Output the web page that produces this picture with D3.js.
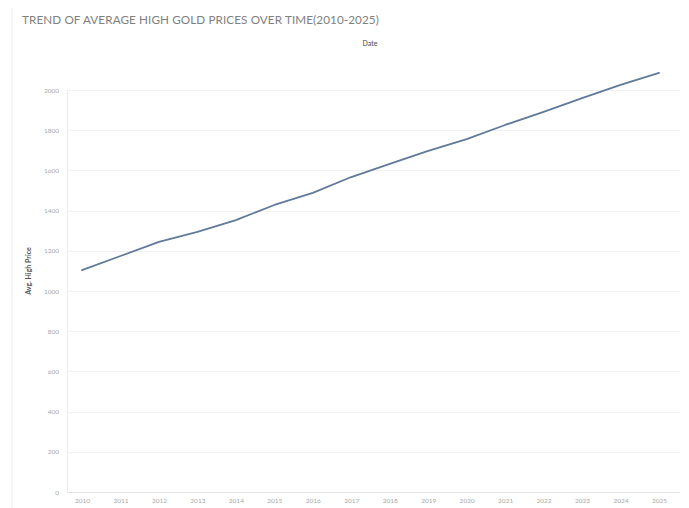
<!DOCTYPE html>
<html>
<head>
<meta charset="utf-8">
<script src="https://cdn.jsdelivr.net/npm/d3@7"></script>
<style>
  html, body { margin: 0; padding: 0; background: #fff; }
  svg { display: block; font-family: Lato, "Open Sans", sans-serif; }
</style>
</head>
<body>
<svg id="chart" width="689" height="508"></svg>
<script>
// Yearly average high gold price (USD)
const years = [2010, 2011, 2012, 2013, 2014, 2015, 2016, 2017, 2018, 2019, 2020, 2021, 2022, 2023, 2024, 2025];
const avgHigh = [1104, 1174, 1244, 1294, 1353, 1428, 1488, 1567, 1632, 1697, 1756, 1826, 1891, 1960, 2025, 2085];
const yTicks = [0, 200, 400, 600, 800, 1000, 1200, 1400, 1600, 1800, 2000];

const svg = d3.select("#chart");
const W = 689, H = 508;
const plot = { left: 67, right: 680, top: 58, bottom: 492 };

const x = d3.scaleLinear().domain([2010, 2025]).range([82, 659]);
const y = d3.scaleLinear().domain([0, 2000]).range([plot.bottom, 90]);

// dashboard frame edge
svg.append("line")
  .attr("x1", 12).attr("x2", 12).attr("y1", 8).attr("y2", H)
  .attr("stroke", "#ececec").attr("stroke-width", 1);

// title
svg.append("text")
  .attr("x", 22).attr("y", 24)
  .attr("font-size", 11.7)
  .attr("fill", "#808080")
  .attr("letter-spacing", 0.1)
  .text("TREND OF AVERAGE HIGH GOLD PRICES OVER TIME(2010-2025)");

// column header
svg.append("text")
  .attr("x", 370).attr("y", 46)
  .attr("text-anchor", "middle")
  .attr("font-size", 7)
  .attr("fill", "#444")
  .text("Date");

// horizontal gridlines
svg.append("g")
  .selectAll("line")
  .data(yTicks)
  .join("line")
  .attr("x1", plot.left).attr("x2", plot.right)
  .attr("y1", d => Math.round(y(d)) + 0.5).attr("y2", d => Math.round(y(d)) + 0.5)
  .attr("stroke", d => d === 0 ? "#e2e2e2" : "#f2f2f2")
  .attr("stroke-width", 1);

// y axis
const yAxis = d3.axisLeft(y).tickValues(yTicks).tickSize(0).tickPadding(8).tickFormat(d3.format("d"));
const gy = svg.append("g").attr("transform", `translate(${plot.left},0)`).call(yAxis);
gy.select(".domain").attr("stroke", "#ececec");
gy.selectAll("text").attr("font-size", 6.5).attr("fill", "#a8a8a8").attr("font-family", "Lato, sans-serif");

// x axis
const xAxis = d3.axisBottom(x).tickValues(years).tickSize(0).tickPadding(6).tickFormat(d3.format("d"));
const gx = svg.append("g").attr("transform", `translate(0,${plot.bottom})`).call(xAxis);
gx.select(".domain").remove();
gx.selectAll("text").attr("font-size", 6.5).attr("fill", "#a8a8a8").attr("font-family", "Lato, sans-serif");

// y axis title
svg.append("text")
  .attr("transform", "translate(31,271) rotate(-90)")
  .attr("text-anchor", "middle")
  .attr("font-size", 7)
  .attr("font-weight", "bold")
  .attr("fill", "#555")
  .text("Avg. High Price");

// trend line
const line = d3.line()
  .x((d, i) => x(years[i]))
  .y(d => y(d));

svg.append("path")
  .datum(avgHigh)
  .attr("d", line)
  .attr("fill", "none")
  .attr("stroke", "#61799a")
  .attr("stroke-width", 1.8)
  .attr("stroke-linejoin", "round")
  .attr("stroke-linecap", "round");
</script>
</body>
</html>
